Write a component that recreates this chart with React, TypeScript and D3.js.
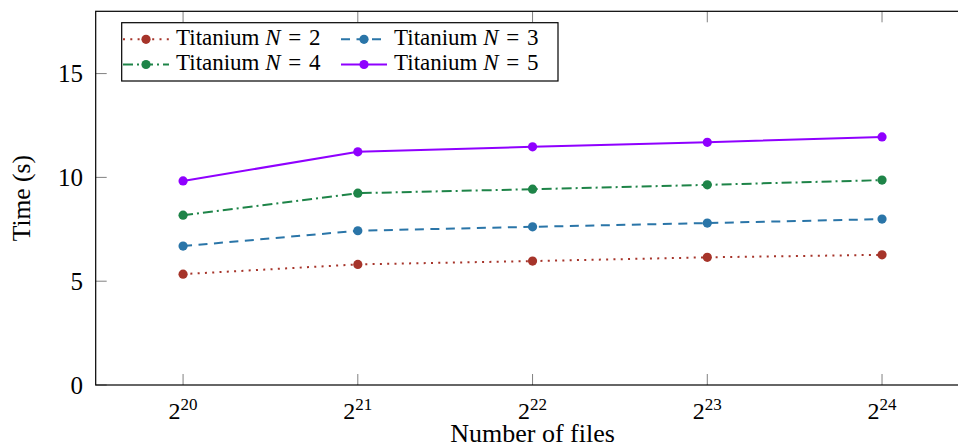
import React, { useEffect, useRef } from 'react'
import * as d3 from 'd3'

const width = 958
const height = 447
const margin = { top: 11.3, left: 95.7, right: -11.4, bottom: 62 }

// x positions are the powers of two (exponents)
const exponents = [20, 21, 22, 23, 24]
const yTicks = [0, 5, 10, 15]

const titaniumN2 = [5.34, 5.81, 5.97, 6.15, 6.27]
const titaniumN3 = [6.69, 7.43, 7.62, 7.80, 7.99]
const titaniumN4 = [8.18, 9.24, 9.43, 9.64, 9.87]
const titaniumN5 = [9.83, 11.23, 11.47, 11.69, 11.95]

const seriesNames = ['2', '3', '4', '5']
const seriesValues = [titaniumN2, titaniumN3, titaniumN4, titaniumN5]
const seriesColors = ['#a6342a', '#2a75a8', '#1e8448', '#8f00ff']
const seriesDash = ['2,5.3', '9,6.5', '10,4,2,4', null]

const font = 'Liberation Serif, DejaVu Serif, serif'

export default function App() {
    const ref = useRef<SVGSVGElement>(null)

    useEffect(() => {
        const svg = d3.select(ref.current)
        svg.selectAll('*').remove()

        const x = d3.scaleLinear().domain([19.5, 24.5]).range([margin.left, width - margin.right])
        const y = d3.scaleLinear().domain([0, 18]).range([height - margin.bottom, margin.top])
        const x0 = x.range()[0], x1 = x.range()[1]
        const y0 = y.range()[0], y1 = y.range()[1]
        const tickLen = 11

        // ticks, inward on all four sides
        const ticks = svg.append('g').attr('stroke', '#808080').attr('stroke-width', 1)
        exponents.forEach(e => {
            ticks.append('line').attr('x1', x(e)).attr('x2', x(e)).attr('y1', y0).attr('y2', y0 - tickLen)
            ticks.append('line').attr('x1', x(e)).attr('x2', x(e)).attr('y1', y1).attr('y2', y1 + tickLen)
        })
        yTicks.forEach(v => {
            ticks.append('line').attr('x1', x0).attr('x2', x0 + tickLen).attr('y1', y(v)).attr('y2', y(v))
            ticks.append('line').attr('x1', x1).attr('x2', x1 - tickLen).attr('y1', y(v)).attr('y2', y(v))
        })

        // series
        const line = d3.line<number>().x((d, i) => x(exponents[i])).y(d => y(d))
        seriesValues.forEach((vals, s) => {
            const g = svg.append('g')
            g.append('path')
                .attr('d', line(vals))
                .attr('fill', 'none')
                .attr('stroke', seriesColors[s])
                .attr('stroke-width', 2)
                .attr('stroke-dasharray', seriesDash[s])
            g.selectAll('circle')
                .data(vals)
                .join('circle')
                .attr('cx', (d, i) => x(exponents[i]))
                .attr('cy', d => y(d))
                .attr('r', 4.6)
                .attr('fill', seriesColors[s])
        })

        // axis box
        svg.append('rect')
            .attr('x', x0).attr('y', y1)
            .attr('width', x1 - x0).attr('height', y0 - y1)
            .attr('fill', 'none').attr('stroke', 'black').attr('stroke-width', 1.2)

        // tick labels
        const xl = svg.append('g').style('font-family', font).attr('text-anchor', 'middle')
        exponents.forEach(e => {
            const t = xl.append('text').attr('x', x(e)).attr('y', 418.5)
            t.append('tspan').attr('font-size', 24).text('2')
            t.append('tspan').attr('font-size', 17).attr('dy', -9).text(`${e}`)
        })
        svg.append('g')
            .style('font-family', font).attr('font-size', 25).attr('text-anchor', 'end')
            .selectAll('text')
            .data(yTicks)
            .join('text')
            .attr('x', 83)
            .attr('y', d => y(d) + 8.5)
            .text(d => d)

        // axis titles
        svg.append('text')
            .attr('x', (x(22)))
            .attr('y', 441.5)
            .style('font-family', font).attr('font-size', 26)
            .attr('text-anchor', 'middle')
            .text('Number of files')
        svg.append('text')
            .attr('transform', `translate(29.5,${(y0 + y1) / 2}) rotate(-90)`)
            .style('font-family', font).attr('font-size', 25.5)
            .attr('text-anchor', 'middle')
            .text('Time (s)')

        // legend
        const legend = svg.append('g')
        legend.append('rect')
            .attr('x', 121.7).attr('y', 22.7).attr('width', 436.3).attr('height', 58.3)
            .attr('fill', 'white').attr('stroke', 'black').attr('stroke-width', 1.2)
        const colText = [176, 394]
        const rowY = [39.3, 64.5]
        seriesNames.forEach((n, s) => {
            const tx = colText[s % 2]
            const ry = rowY[Math.floor(s / 2)]
            legend.append('line')
                .attr('x1', tx - 53).attr('x2', tx - 7).attr('y1', ry).attr('y2', ry)
                .attr('stroke', seriesColors[s]).attr('stroke-width', 2)
                .attr('stroke-dasharray', seriesDash[s])
            legend.append('circle')
                .attr('cx', tx - 30).attr('cy', ry).attr('r', 4.6)
                .attr('fill', seriesColors[s])
            const t = legend.append('text')
                .attr('x', tx).attr('y', ry + 5.2)
                .style('font-family', font).attr('font-size', 23)
            t.append('tspan').text('Titanium ')
            t.append('tspan').attr('font-style', 'italic').text('N')
            t.append('tspan').text(`\u2004=\u2004${n}`)
        })
    }, [])

    return (
        <svg ref={ref} width={width} height={height}
            style={{ position: 'absolute', left: 0, top: 0, background: 'white' }} />
    )
}
